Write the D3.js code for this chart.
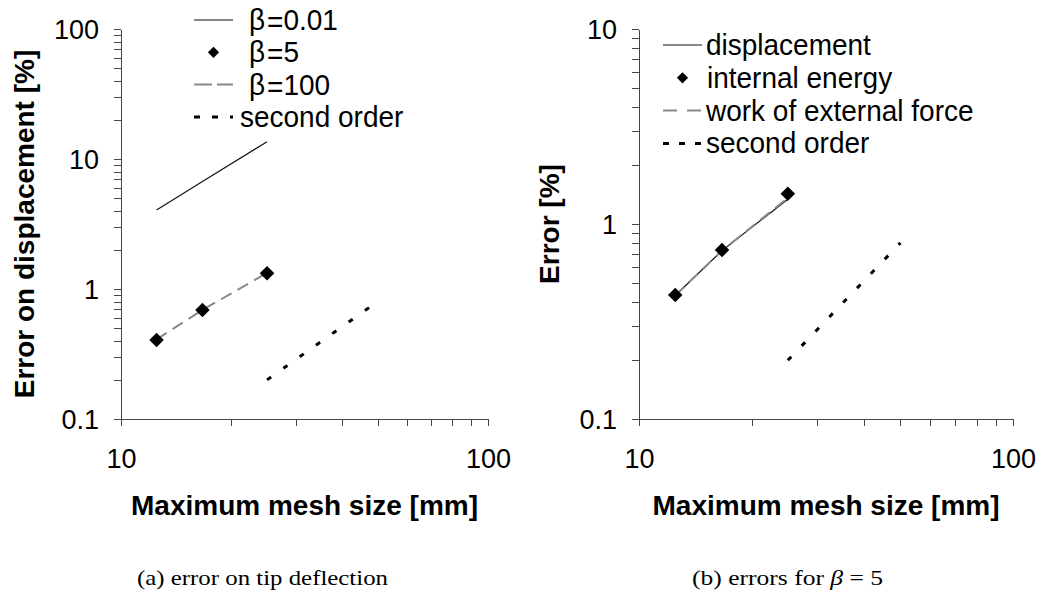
<!DOCTYPE html>
<html>
<head>
<meta charset="utf-8">
<script src="https://cdn.jsdelivr.net/npm/d3@7"></script>
<style>
  html, body { margin: 0; padding: 0; background: #fff; }
  svg { display: block; }
  .axis text { font-family: "Liberation Sans", Arial, sans-serif; font-size: 27px; fill: #000; }
  .axis line, .axis path { stroke: #444; stroke-width: 1; shape-rendering: crispEdges; }
  .title { font-family: "Liberation Sans", Arial, sans-serif; font-size: 28px; font-weight: bold; fill: #000; }
  .legend text { font-family: "Liberation Sans", Arial, sans-serif; font-size: 28px; fill: #000; }
  .caption { font-family: "Liberation Serif", "Times New Roman", serif; font-size: 22px; fill: #000; }
</style>
</head>
<body>
<svg id="chart" width="1041" height="594"></svg>
<script>
// Mesh sizes used in the convergence study [mm]
const meshSize = [12.5, 16.67, 25];

// (a) error on tip displacement [%] for three penalty values
const errBeta001 = [4.05, 6.7, 13.6];
const errBeta5 = [0.405, 0.689, 1.32];
const errBeta100 = [0.41, 0.69, 1.33];

// (b) errors for beta = 5 [%]
const errDisplacement = [0.43, 0.73, 1.34];
const errInternalEnergy = [0.432, 0.736, 1.43];
const errExternalWork = [0.43, 0.73, 1.36];

// Reference slope of a second order method
const secondOrderX = [25, 50];
const secondOrderY = [0.2, 0.8];

// Axis tick labels
const xTickLabels = [10, 100];
const yTickLabelsA = [0.1, 1, 10, 100];
const yTickLabelsB = [0.1, 1, 10];

const svg = d3.select("#chart");

const zip = (xs, ys) => xs.map((x, i) => [x, ys[i]]);

function logTicks(lo, hi) {
  const out = [];
  for (let d = lo; d < hi - 1e-9; d *= 10) {
    for (let k = 1; k <= 9; k++) out.push(+(d * k).toPrecision(6));
  }
  out.push(hi);
  return out;
}

function drawPanel(p) {
  const g = svg.append("g");
  const x = d3.scaleLog().domain([10, 100]).range([p.x0, p.x1]);
  const y = d3.scaleLog().domain(p.yDomain).range([p.yBottom, p.yTop]);

  const fmt = v => (p.yLabels.includes(v) ? String(v) : "");
  const xfmt = v => (xTickLabels.includes(v) ? String(v) : "");

  // y axis
  const ya = g.append("g").attr("class", "axis")
    .attr("transform", `translate(${p.x0},0)`)
    .call(d3.axisLeft(y).tickValues(logTicks(p.yDomain[0], p.yDomain[1]))
      .tickFormat(fmt).tickSize(7).tickSizeOuter(0).tickPadding(15));
  ya.selectAll("text").attr("dy", "0.34em");

  // x axis
  g.append("g").attr("class", "axis")
    .attr("transform", `translate(0,${p.yBottom})`)
    .call(d3.axisBottom(x).tickValues(logTicks(10, 100))
      .tickFormat(xfmt).tickSize(7).tickSizeOuter(0).tickPadding(23));

  const line = d3.line().x(d => x(d[0])).y(d => y(d[1]));

  p.series.forEach(s => {
    if (s.kind === "line") {
      g.append("path").datum(zip(s.xs, s.ys))
        .attr("d", line).attr("fill", "none")
        .attr("stroke", s.color).attr("stroke-width", s.width)
        .attr("stroke-dasharray", s.dash || null);
    } else {
      g.selectAll(null).data(zip(s.xs, s.ys)).enter().append("path")
        .attr("d", d3.symbol().type(d3.symbolDiamond2).size(s.size)())
        .attr("transform", d => `translate(${x(d[0])},${y(d[1])})`)
        .attr("fill", "#000");
    }
  });

  // legend
  const lg = g.append("g").attr("class", "legend");
  p.legend.forEach((item, i) => {
    const cy = p.legY + i * p.legStep;
    const s = item.series;
    if (s.kind === "line") {
      lg.append("line")
        .attr("x1", p.legX0).attr("x2", p.legX1)
        .attr("y1", cy).attr("y2", cy)
        .attr("stroke", s.color).attr("stroke-width", s.width)
        .attr("stroke-dasharray", item.dash || s.dash || null);
    } else {
      lg.append("path")
        .attr("d", d3.symbol().type(d3.symbolDiamond2).size(item.size)())
        .attr("transform", `translate(${(p.legX0 + p.legX1) / 2},${cy})`)
        .attr("fill", "#000");
    }
    // legend labels are slightly taller than wide
    const t = lg.append("text")
      .attr("transform", `translate(${item.tx},${cy + 10}) scale(1,1.08)`);
    if (item.beta) {
      t.append("tspan").text("β");
      t.append("tspan").attr("dx", 2).attr("dy", 2).text("=");
      t.append("tspan").attr("dy", -2).text(item.label);
    } else {
      t.text(item.label);
    }
  });

  // axis titles
  g.append("text").attr("class", "title")
    .attr("x", (p.x0 + p.x1) / 2).attr("y", 515)
    .attr("text-anchor", "middle").text("Maximum mesh size [mm]");
  g.append("text").attr("class", "title")
    .attr("transform", `translate(${p.yTitleX},${(p.yTop + p.yBottom) / 2}) rotate(-90)`)
    .attr("text-anchor", "middle").text(p.yTitle);

  // sub-caption
  const cap = g.append("text").attr("class", "caption")
    .attr("x", p.capX).attr("y", 585)
    .attr("textLength", p.capW).attr("lengthAdjust", "spacingAndGlyphs");
  p.caption.forEach(c => {
    const ts = cap.append("tspan").text(c.t);
    if (c.italic) ts.attr("font-style", "italic");
  });
}

// ----- panel (a)
const a001 = { kind: "line", xs: meshSize, ys: errBeta001, color: "#111", width: 1.2 };
const a5 = { kind: "marker", xs: meshSize, ys: errBeta5, size: 135 };
const a100 = { kind: "line", xs: meshSize, ys: errBeta100, color: "#888", width: 2, dash: "12,7" };
const aSO = { kind: "line", xs: secondOrderX, ys: secondOrderY, color: "#000", width: 3, dash: "5,15" };

drawPanel({
  x0: 121, x1: 488, yTop: 29, yBottom: 419, yDomain: [0.1, 100], yLabels: yTickLabelsA,
  series: [a001, a100, a5, aSO],
  legend: [
    { series: a001, label: "0.01", beta: true, tx: 249 },
    { series: a5, label: "5", beta: true, tx: 249, size: 80 },
    { series: a100, label: "100", beta: true, tx: 249, dash: "18,5" },
    { series: aSO, label: "second order", tx: 240, dash: "6,12" }
  ],
  legX0: 194, legX1: 233, legY: 20, legStep: 32.3,
  yTitle: "Error on displacement [%]", yTitleX: 34,
  caption: [{ t: "(a) error on tip deflection" }], capX: 137, capW: 251
});

// ----- panel (b)
const bDisp = { kind: "line", xs: meshSize, ys: errDisplacement, color: "#111", width: 1.2 };
const bEnergy = { kind: "marker", xs: meshSize, ys: errInternalEnergy, size: 135 };
const bWork = { kind: "line", xs: meshSize, ys: errExternalWork, color: "#888", width: 2, dash: "12,7" };
const bSO = { kind: "line", xs: secondOrderX, ys: secondOrderY, color: "#000", width: 3, dash: "5,15" };

drawPanel({
  x0: 639, x1: 1013, yTop: 29, yBottom: 419, yDomain: [0.1, 10], yLabels: yTickLabelsB,
  series: [bDisp, bWork, bEnergy, bSO],
  legend: [
    { series: bDisp, label: "displacement", tx: 706 },
    { series: bEnergy, label: "internal energy", tx: 707, size: 80 },
    { series: bWork, label: "work of external force", tx: 706, dash: "14,10" },
    { series: bSO, label: "second order", tx: 706, dash: "6,10" }
  ],
  legX0: 663, legX1: 702, legY: 45, legStep: 32.8,
  yTitle: "Error [%]", yTitleX: 559,
  caption: [{ t: "(b) errors for " }, { t: "β", italic: true }, { t: " = 5" }], capX: 692, capW: 191
});
</script>
</body>
</html>
